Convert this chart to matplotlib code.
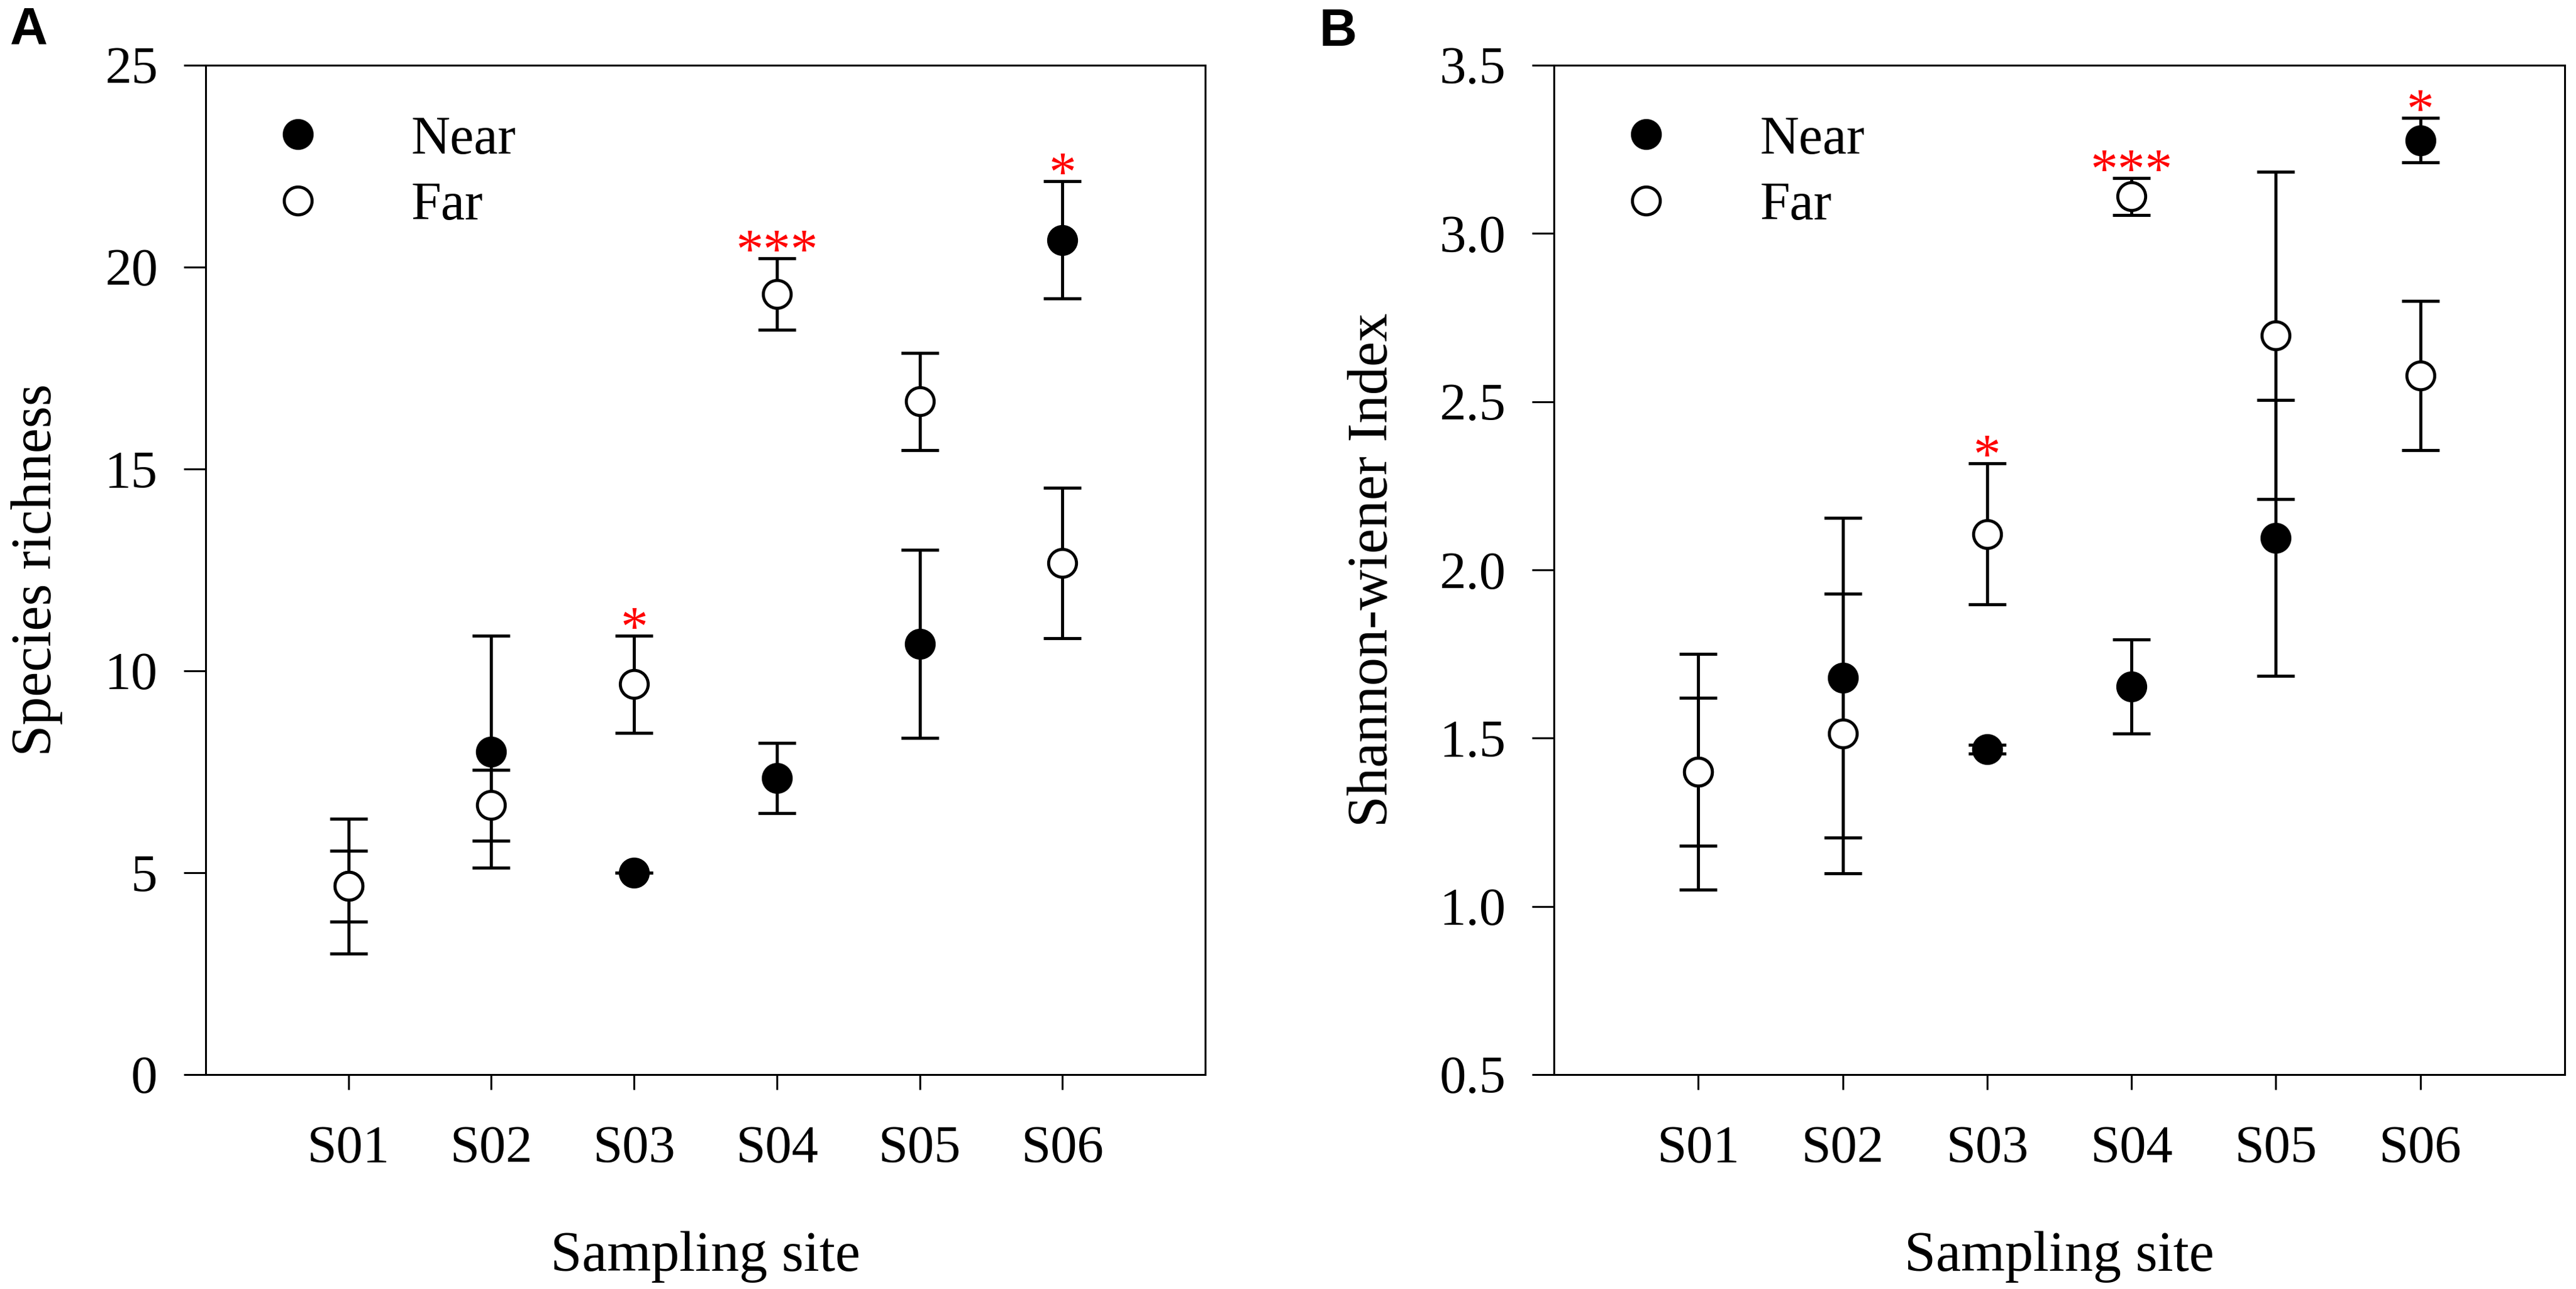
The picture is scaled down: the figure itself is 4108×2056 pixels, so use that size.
import matplotlib.pyplot as plt
import numpy as np

plt.rcParams['font.family'] = ['Liberation Serif', 'DejaVu Serif']

# Dados (média ± erro)
sites = ["S01", "S02", "S03", "S04", "S05", "S06"]

rich_near = [4.67, 8.00, 5.00, 7.35, 10.67, 20.67]
rich_near_err = [0.88, 2.87, 0.00, 0.87, 2.33, 1.45]
rich_far = [4.67, 6.67, 9.67, 19.33, 16.67, 12.67]
rich_far_err = [1.67, 0.88, 1.20, 0.88, 1.20, 1.86]
rich_sig = ["", "", "*", "***", "", "*"]

shan_near = [1.40, 1.68, 1.467, 1.654, 2.095, 3.277]
shan_near_err = [0.22, 0.475, 0.013, 0.14, 0.41, 0.066]
shan_far = [1.40, 1.514, 2.107, 3.11, 2.697, 2.578]
shan_far_err = [0.35, 0.416, 0.21, 0.055, 0.487, 0.222]
shan_sig = ["", "", "*", "***", "", "*"]

W, H = 4108, 2056
fig = plt.figure(figsize=(W / 100, H / 100), dpi=100)
ax_a = fig.add_axes([328 / W, 342 / H, 1594 / W, 1610 / H])
ax_b = fig.add_axes([2478 / W, 342 / H, 1612 / W, 1610 / H])


def painel(ax, near, near_err, far, far_err, sig, ylim, yticks, ylabel, fmt, ylab_x):
    x = np.arange(1, len(sites) + 1)
    estilo = dict(fmt='o', color='black', mec='black', ms=32, mew=3.5,
                  elinewidth=3.5, capsize=21.6, capthick=3.5)
    eb_near = ax.errorbar(x, near, yerr=near_err, mfc='black', zorder=3, **estilo)
    eb_far = ax.errorbar(x, far, yerr=far_err, mfc='white', zorder=4, **estilo)

    # asteriscos acima da barra de erro mais alta
    topo = np.maximum(np.array(near) + near_err, np.array(far) + far_err)
    for xi, yi, s in zip(x, topo, sig):
        if s:
            ax.annotate(s, (xi, yi), xytext=(0, -10), textcoords='offset points',
                        ha='center', va='baseline', color='red', fontsize=63)

    ax.set_xlim(0, 7)
    ax.set_ylim(*ylim)
    ax.set_xticks(x)
    ax.set_xticklabels(sites)
    ax.set_yticks(yticks)
    ax.set_yticklabels([fmt.format(v) for v in yticks])
    for sp in ax.spines.values():
        sp.set_linewidth(2.2)
    ax.tick_params(axis='y', direction='out', length=25, width=2.2, pad=30, labelsize=61)
    ax.tick_params(axis='x', direction='out', length=17, width=2.2, pad=41, labelsize=61)

    ax.set_xlabel("Sampling site", fontsize=65)
    ax.xaxis.set_label_coords(0.5, -0.155)
    ax.set_ylabel(ylabel, fontsize=65)
    ax.yaxis.set_label_coords(ylab_x, 0.5)

    ax.legend([eb_near[0], eb_far[0]], ["Near", "Far"], loc='upper left',
              bbox_to_anchor=(0.038, 0.977), frameon=False, borderpad=0,
              handlelength=1.0, handletextpad=1.6, labelspacing=0.3,
              fontsize=62, numpoints=1)


painel(ax_a, rich_near, rich_near_err, rich_far, rich_far_err, rich_sig,
       (0, 25), [0, 5, 10, 15, 20, 25], "Species richness", "{:g}", -0.143)
painel(ax_b, shan_near, shan_near_err, shan_far, shan_far_err, shan_sig,
       (0.5, 3.5), [0.5, 1.0, 1.5, 2.0, 2.5, 3.0, 3.5], "Shannon-wiener Index", "{:.1f}", -0.153)

fig.text(16 / W, 1 - 10 / H, "A", family='Liberation Sans', weight='bold',
         fontsize=60, ha='left', va='top')
fig.text(2103 / W, 1 - 12 / H, "B", family='Liberation Sans', weight='bold',
         fontsize=60, ha='left', va='top')

plt.savefig("out.png", dpi=100)
